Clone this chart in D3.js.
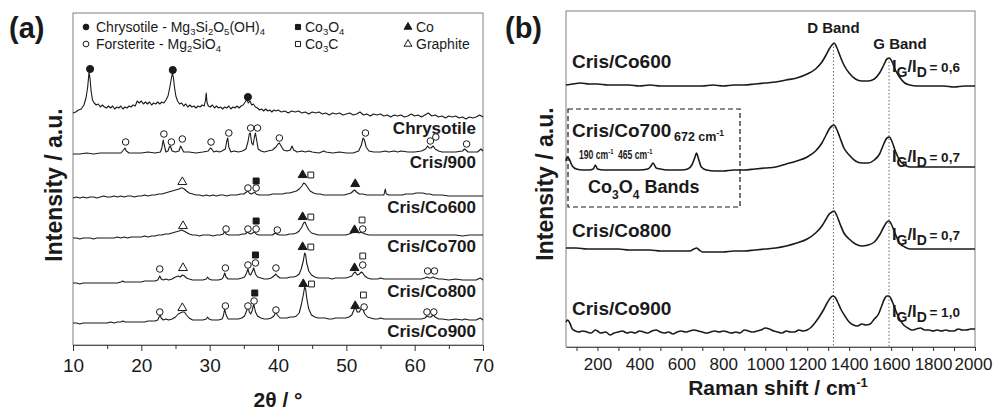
<!DOCTYPE html>
<html><head><meta charset="utf-8">
<script src="https://cdn.jsdelivr.net/npm/d3@7"></script>
<style>
body{margin:0;background:#fff}
text{font-family:"Liberation Sans",Arial,sans-serif;fill:#1a1a1a}
</style>
</head><body>
<svg id="c" width="993" height="412"></svg>
<script>
// ---------------- DATA: panel (a) XRD ----------------
const xrdTraceNames = ["Chrysotile","Cris/900","Cris/Co600","Cris/Co700","Cris/Co800","Cris/Co900"];
const xrdChrysotile = [[10.0,232],[10.4,233],[10.8,235],[11.2,236],[11.6,240],[11.9,247],[12.15,258],[12.35,273],[12.5,266],[12.65,254],[12.85,245],[13.1,242],[13.4,240],[13.7,241],[14.0,238],[14.3,240],[14.6,238],[14.9,237],[15.2,239],[15.5,237],[15.8,239],[16.1,236],[16.4,238],[16.7,237],[17.0,239],[17.3,236],[17.6,238],[17.9,237],[18.2,239],[18.5,238],[18.8,240],[19.1,239],[19.4,244],[19.7,242],[20.0,244],[20.3,241],[20.6,243],[20.9,241],[21.2,243],[21.5,240],[21.8,242],[22.1,241],[22.4,243],[22.7,241],[23.0,243],[23.3,242],[23.6,245],[23.9,249],[24.15,257],[24.35,265],[24.55,272],[24.7,267],[24.85,258],[25.05,249],[25.3,244],[25.6,241],[25.9,242],[26.2,239],[26.5,241],[26.8,238],[27.1,240],[27.4,238],[27.7,239],[28.0,237],[28.3,239],[28.6,238],[28.9,240],[29.2,239],[29.4,245],[29.5,252],[29.6,243],[29.8,239],[30.1,238],[30.4,240],[30.7,237],[31.0,239],[31.3,237],[31.6,238],[31.9,236],[32.2,238],[32.5,237],[32.8,239],[33.1,236],[33.4,238],[33.7,237],[34.0,239],[34.3,237],[34.6,239],[34.9,240],[35.2,243],[35.45,246],[35.65,242],[35.9,244],[36.15,240],[36.4,241],[36.7,238],[37.0,237],[37.3,235],[37.6,236],[37.9,234],[38.2,236],[38.5,234],[38.8,235],[39.1,233],[39.4,235],[39.7,234],[40.0,235],[40.5,233],[41.0,234],[41.5,232],[42.0,234],[42.5,233],[43.0,234],[43.5,232],[44.0,233],[44.5,231],[45.0,233],[45.5,232],[46.0,233],[46.5,231],[47.0,232],[47.5,230],[48.0,232],[48.5,231],[49.0,232],[49.5,230],[50.0,231],[50.5,232],[51.0,230],[51.5,231],[52.0,233],[52.5,230],[53.0,231],[53.5,229],[54.0,231],[54.5,230],[55.0,231],[55.5,229],[56.0,230],[56.5,228],[57.0,230],[57.5,229],[58.0,230],[58.5,228],[59.0,229],[59.5,231],[60.0,229],[60.5,230],[61.0,228],[61.5,230],[62.0,232],[62.5,229],[63.0,230],[63.5,228],[64.0,229],[64.5,227],[65.0,229],[65.5,228],[66.0,229],[66.5,227],[67.0,228],[67.5,226],[68.0,228],[68.5,227],[69.0,228],[69.5,230],[70.0,228]];
const xrdCris900 = [[10.0,191],[11,191],[12,192],[13,191],[14,192],[15,192],[16,192],[17.0,192],[17.4,195],[17.6,197],[17.8,194],[18.2,192],[19,192],[20,192],[21,193],[22,192],[22.8,193],[23.0,197],[23.2,205],[23.35,200],[23.6,193],[23.9,194],[24.1,198],[24.25,199],[24.5,194],[25.0,193],[25.5,194],[25.75,199],[25.9,197],[26.2,193],[27,193],[28,192],[29,193],[29.8,194],[30.1,197],[30.3,196],[30.6,193],[31.0,194],[31.4,193],[31.8,194],[32.3,196],[32.5,204],[32.65,207],[32.8,198],[33.1,193],[33.6,194],[34.2,193],[34.8,194],[35.3,196],[35.6,203],[35.8,211],[35.95,212],[36.15,202],[36.35,200],[36.55,208],[36.7,212],[36.85,206],[37.1,196],[37.5,194],[38,193],[38.5,194],[39.2,195],[39.7,198],[40.0,201],[40.2,202],[40.45,199],[40.8,195],[41.3,194],[41.8,195],[42.05,199],[42.3,195],[42.8,193],[43.5,194],[44,193],[44.5,194],[45,193],[46,192],[46.7,194],[47,193],[48,192],[49,193],[50,192],[51,192],[51.8,194],[52.2,200],[52.45,207],[52.65,205],[52.9,198],[53.3,194],[54,193],[55,193],[55.7,194],[56.2,193],[57,194],[57.5,193],[58,194],[59,193],[60,193],[61,194],[61.6,196],[61.9,199],[62.1,197],[62.4,197],[62.7,199],[63.0,196],[63.5,194],[64,193],[65,193],[66,193],[67,194],[67.3,196],[67.5,195],[67.8,193],[68.5,193],[69.2,193],[69.7,196],[70,194]];
const xrdCo600 = [[10,147],[10.5,148],[11,147],[11.5,148],[12,147],[12.5,148],[13,148],[13.5,147],[14,148],[14.5,149],[15,148],[15.5,148],[16,149],[16.5,148],[17,149],[17.5,148],[18,149],[18.5,149],[19,148],[19.5,149],[20,149],[20.5,150],[21,149],[21.5,150],[22,150],[22.5,151],[23,151],[23.5,152],[24,153],[24.5,154],[25,155],[25.5,156],[25.8,157],[26.0,157],[26.3,156],[26.6,154],[27,152],[27.5,151],[28,150],[28.5,150],[29,149],[29.5,150],[30,149],[30.5,150],[31,149],[31.5,150],[32,150],[32.5,149],[33,150],[33.5,150],[34,150],[34.5,151],[35,151],[35.4,153],[35.6,154],[35.8,152],[36.1,151],[36.4,152],[36.6,153],[36.8,151],[37.2,150],[37.7,150],[38.2,150],[38.7,150],[39.2,151],[39.7,151],[40.2,151],[40.7,151],[41.2,152],[41.7,152],[42.2,153],[42.7,154],[43.1,156],[43.5,159],[43.75,162],[44.0,161],[44.3,158],[44.7,154],[45.2,152],[45.7,151],[46.2,151],[46.7,150],[47.2,150],[47.7,150],[48.2,150],[48.7,150],[49.2,150],[49.7,150],[50.2,151],[50.7,152],[51.0,154],[51.2,155],[51.5,153],[51.9,151],[52.4,151],[53,150],[53.5,150],[54,150],[54.5,150],[55,150],[55.5,150],[55.7,156],[55.85,151],[56.2,150],[56.7,150],[57.2,150],[57.7,150],[58.2,150],[58.7,151],[59.2,151],[59.7,151],[60.2,152],[60.7,152],[61.2,152],[61.7,151],[62.2,151],[62.7,150],[63.2,150],[64,150],[65,149],[66,149],[67,149],[68,149],[69,149],[70,149]];
const xrdCo700 = [[10,107],[10.5,107],[11,106],[11.5,107],[12,107],[12.5,107],[13,106],[13.5,107],[14,107],[14.5,107],[15,107],[15.5,107],[16,107],[16.5,108],[17,107],[17.5,108],[18,107],[18.5,108],[19,108],[19.5,108],[20,108],[20.5,109],[21,108],[21.5,109],[22,109],[22.5,110],[23,110],[23.5,111],[24,111],[24.5,112],[25,113],[25.5,114],[25.9,115],[26.2,114],[26.5,113],[27,111],[27.5,110],[28,110],[28.5,109],[29,110],[29.5,110],[30,110],[30.5,109],[31,110],[31.5,110],[32.0,111],[32.2,114],[32.4,111],[32.8,110],[33.3,110],[33.8,110],[34.3,110],[34.8,111],[35.2,111],[35.5,113],[35.7,112],[36.0,111],[36.3,112],[36.6,113],[36.8,111],[37.2,110],[37.7,110],[38.2,110],[38.7,110],[39.2,110],[39.6,112],[39.8,111],[40.2,110],[40.7,110],[41.2,110],[41.7,111],[42.2,111],[42.7,112],[43.1,114],[43.5,118],[43.75,122],[43.95,123],[44.2,119],[44.5,115],[44.9,112],[45.4,111],[45.9,110],[46.4,110],[46.9,110],[47.4,110],[47.9,110],[48.4,110],[48.9,110],[49.4,110],[49.9,110],[50.4,111],[50.8,112],[51.1,114],[51.3,115],[51.6,113],[51.9,112],[52.2,113],[52.4,112],[52.8,111],[53.3,110],[54,110],[55,110],[56,110],[57,110],[58,110],[59,110],[60,110],[61,110],[62,110],[63,110],[64,110],[65,110],[66,110],[67,109],[68,110],[69,110],[70,110]];
const xrdCo800 = [[10,62],[10.5,62],[11,61],[11.5,62],[12,62],[12.5,62],[13,62],[13.5,62],[14,62],[14.5,62],[15,62],[15.5,62],[16,62],[16.5,62],[17,63],[17.3,64],[17.5,63],[18,63],[18.5,63],[19,63],[19.5,63],[20,63],[20.5,64],[21,64],[21.5,64],[22,64],[22.4,65],[22.7,69],[22.9,66],[23.2,65],[23.6,66],[24,65],[24.5,66],[25,68],[25.4,69],[25.7,68],[26.0,70],[26.3,69],[26.6,67],[27,66],[27.5,65],[28,65],[28.5,65],[29,65],[29.5,66],[29.7,68],[29.9,66],[30.3,65],[30.8,65],[31.3,65],[31.8,66],[32.0,68],[32.2,72],[32.4,68],[32.7,66],[33.2,66],[33.7,66],[34.2,66],[34.7,67],[35.1,68],[35.4,72],[35.6,76],[35.8,71],[36.0,70],[36.2,73],[36.45,77],[36.7,71],[37,68],[37.5,67],[38,66],[38.5,66],[39,67],[39.4,69],[39.7,71],[39.9,69],[40.3,67],[40.8,67],[41.3,67],[41.8,68],[42.3,68],[42.7,69],[43.1,71],[43.4,76],[43.7,84],[43.9,92],[44.05,90],[44.2,82],[44.5,74],[44.9,70],[45.4,68],[45.9,67],[46.4,67],[46.9,67],[47.4,67],[47.9,66],[48.4,67],[48.9,67],[49.4,67],[49.9,67],[50.4,68],[50.8,69],[51.1,72],[51.3,73],[51.6,70],[51.9,71],[52.2,73],[52.4,72],[52.7,69],[53.1,67],[53.6,66],[54.1,66],[54.6,66],[55,67],[55.5,66],[56,66],[57,66],[58,66],[59,66],[60,66],[61,66],[61.5,67],[61.8,68],[62.1,67],[62.4,67],[62.7,68],[63.0,67],[63.5,66],[64,66],[65,65],[66,66],[67,65],[68,65],[69,65],[69.6,67],[69.8,66],[70,65]];
const xrdCo900 = [[10,22],[10.5,22],[11,21],[11.5,22],[12,22],[12.5,22],[13,22],[13.5,22],[14,22],[14.5,22],[15,22],[15.5,23],[16,22],[16.5,23],[17,23],[17.3,24],[17.6,23],[18,23],[18.5,23],[19,23],[19.5,23],[20,23],[20.5,23],[21,24],[21.5,24],[22,24],[22.4,25],[22.6,28],[22.75,31],[22.9,27],[23.2,25],[23.6,26],[24,25],[24.5,26],[25,28],[25.4,31],[25.7,32],[26.0,33],[26.3,33],[26.6,30],[27,27],[27.5,25],[28,25],[28.5,25],[29,25],[29.5,26],[29.7,28],[29.9,26],[30.3,25],[30.8,25],[31.3,25],[31.8,26],[32.0,29],[32.2,36],[32.4,30],[32.7,26],[33.2,26],[33.7,26],[34.2,26],[34.7,27],[35.1,29],[35.4,34],[35.6,39],[35.8,33],[36.0,31],[36.2,34],[36.45,41],[36.7,33],[37,29],[37.5,27],[38,26],[38.5,26],[39,27],[39.4,29],[39.7,33],[39.9,30],[40.3,27],[40.8,27],[41.3,27],[41.8,28],[42.3,28],[42.7,29],[43.1,32],[43.4,40],[43.7,50],[43.9,58],[44.05,56],[44.2,47],[44.5,36],[44.9,30],[45.4,28],[45.9,27],[46.4,27],[46.9,27],[47.4,26],[47.9,26],[48.4,27],[48.9,27],[49.4,27],[49.9,27],[50.4,28],[50.8,30],[51.1,35],[51.3,38],[51.6,33],[51.9,33],[52.2,37],[52.4,36],[52.7,31],[53.1,28],[53.6,27],[54.1,26],[54.6,26],[55,27],[55.5,26],[56,26],[57,26],[58,26],[59,26],[60,26],[61,26],[61.5,27],[61.8,29],[62.1,28],[62.4,28],[62.7,30],[63.0,28],[63.5,26],[64,26],[65,25],[66,26],[67,25],[67.3,26],[68,25],[69,25],[69.6,27],[69.8,26],[70,25]];
const xrdTicks = [10,20,30,40,50,60,70];
const xrdMinorTicks = [15,25,35,45,55,65];
// phase markers [2theta, intensity]
const markChrysotile = [[12.5,276],[24.6,275],[35.6,248]];
const markForsterite = [[17.7,203],[23.3,211],[24.4,203],[26.0,206],[30.2,203],[32.8,212],[36.0,217],[37.0,217],[40.2,207],[52.8,212],[62.3,204],[63.1,208],[67.6,201],
  [35.6,157],[36.8,157],
  [32.4,116],[35.6,116],[36.8,116],[39.9,115],[52.4,116],
  [22.7,76],[32.3,77],[35.6,80],[36.7,82],[39.7,77],[52.4,80],[61.9,74],[62.9,74],
  [22.7,33],[32.3,39],[35.6,39],[36.5,44],[39.7,35],[52.6,38],[61.8,33],[62.8,33]];
const markCo3O4 = [[36.8,164],[36.8,124],[36.7,90],[36.6,52]];
const markCo3C = [[44.8,170],[44.8,128],[52.3,125],[44.8,98],[52.4,89],[44.9,61],[52.5,50]];
const markCo = [[43.6,170],[51.3,161],[43.6,128],[51.2,115],[43.6,98],[51.2,77],[43.7,61],[51.3,39]];
const markGraphite = [[26.0,163],[26.1,119],[26.1,77],[26.0,37]];

// ---------------- DATA: panel (b) Raman ----------------
const ramanNames = ["Cris/Co600","Cris/Co700","Cris/Co800","Cris/Co900"];
const ramanRatios = ["0,6","0,7","0,7","1,0"];
const ramanCo600 = [[50,262],[80,263],[120,264],[160,263],[200,263],[250,262],[300,262],[350,262],[400,261],[450,262],[500,261],[550,261],[600,261],[650,261],[700,261],[750,262],[800,261],[850,262],[900,262],[950,263],[1000,264],[1050,265],[1100,267],[1150,269],[1200,273],[1240,278],[1270,285],[1290,292],[1305,298],[1318,302],[1328,304],[1340,300],[1355,292],[1375,282],[1400,274],[1430,268],[1460,266],[1490,266],[1520,268],[1545,274],[1565,282],[1580,288],[1592,289],[1605,285],[1620,277],[1640,270],[1665,264],[1690,262],[1720,261],[1760,261],[1800,261],[1850,261],[1900,260],[1950,261],[2000,261]];
const ramanCo700 = [[50,186],[55,190],[65,188],[80,181],[100,178],[130,177],[160,177],[180,178],[190,182],[200,178],[230,177],[260,177],[300,177],[350,177],[400,177],[440,178],[455,181],[465,184],[480,179],[500,178],[530,177],[560,177],[600,177],[630,178],[650,182],[665,190],[672,194],[682,188],[695,180],[720,177],[760,176],[800,176],[850,177],[900,177],[950,178],[1000,179],[1050,180],[1100,183],[1150,186],[1200,190],[1240,196],[1270,204],[1290,212],[1305,218],[1318,221],[1328,222],[1340,218],[1355,210],[1375,199],[1400,192],[1430,186],[1460,184],[1490,184],[1520,187],[1545,193],[1565,203],[1580,209],[1592,210],[1605,205],[1620,196],[1640,187],[1665,182],[1690,180],[1720,180],[1800,180],[1900,180],[2000,180]];
const ramanCo800 = [[50,99],[100,99],[150,98],[200,98],[250,98],[300,98],[350,97],[400,97],[450,97],[500,96],[550,96],[600,96],[640,96],[660,98],[672,99],[685,97],[700,95],[750,95],[800,95],[850,96],[900,96],[950,97],[1000,98],[1050,99],[1100,101],[1150,104],[1200,108],[1240,114],[1270,121],[1290,128],[1305,133],[1318,135],[1328,136],[1340,132],[1355,124],[1375,114],[1400,108],[1430,103],[1460,101],[1490,102],[1520,105],[1545,112],[1565,120],[1580,125],[1590,126],[1605,121],[1620,113],[1640,104],[1665,100],[1690,98],[1720,98],[1800,98],[1900,98],[2000,98]];
const ramanCo900 = [[50,25],[58,27],[68,24],[80,18],[95,16],[110,15],[130,16],[150,15],[170,14],[190,17],[200,16],[215,14],[240,15],[260,12],[280,14],[300,15],[320,16],[340,14],[360,15],[380,14],[400,16],[420,15],[440,14],[460,16],[480,17],[500,15],[520,14],[540,15],[560,13],[580,15],[600,16],[620,15],[640,16],[660,17],[680,16],[700,15],[720,14],[740,15],[760,16],[780,15],[800,16],[820,15],[840,14],[860,15],[880,14],[900,17],[920,16],[940,15],[960,16],[980,17],[1000,19],[1020,18],[1040,16],[1060,15],[1080,14],[1100,16],[1120,15],[1140,15],[1160,17],[1180,16],[1200,17],[1220,20],[1240,25],[1260,31],[1280,38],[1295,44],[1310,49],[1322,51],[1332,50],[1345,45],[1360,38],[1380,31],[1400,25],[1420,22],[1440,21],[1460,23],[1480,22],[1500,23],[1520,28],[1540,33],[1555,41],[1568,48],[1580,51],[1590,51],[1600,48],[1612,42],[1625,35],[1640,28],[1660,22],[1680,19],[1700,17],[1720,18],[1740,19],[1760,17],[1780,17],[1800,16],[1820,17],[1840,16],[1860,17],[1880,16],[1900,16],[1920,18],[1940,17],[1960,17],[1980,18],[2000,18]];
const ramanTicks = [200,400,600,800,1000,1200,1400,1600,1800,2000];
const ramanMinorTicks = [100,300,500,700,900,1100,1300,1500,1700,1900];
const bandNames = ["D Band","G Band"];
const bandPositions = [1325, 1590];
const co3o4Peaks = ["190","465","672"];

// ---------------- DRAW ----------------
const svg = d3.select("#c");
const ink = "#1a1a1a";

function rich(g, x, y, parts, size, weight, anchor, subShift) {
  const t = g.append("text").attr("x", x).attr("y", y)
    .attr("font-size", size).attr("font-weight", weight || "normal")
    .attr("text-anchor", anchor || "start");
  let shift = 0;
  const sub = subShift != null ? subShift : size * 0.33;
  parts.forEach(p => {
    let s = p, kind = null, fs = null;
    if (Array.isArray(p)) { s = p[0]; kind = p[1]; fs = p[2]; }
    const target = kind === "sub" ? sub : kind === "sup" ? -size * 0.4 : 0;
    const ts = t.append("tspan").text(s);
    if (target !== shift) { ts.attr("dy", target - shift); shift = target; }
    ts.attr("font-size", fs || (kind ? size * 0.68 : size));
  });
  return t;
}

// ======== panel (a) ========
const xA = d3.scaleLinear().domain([10, 70]).range([73, 483]);
const yA = d3.scaleLinear().domain([0, 332]).range([345, 13]);
const gA = svg.append("g");

gA.append("rect").attr("x", 73).attr("y", 13).attr("width", 410).attr("height", 332)
  .attr("fill", "none").attr("stroke", "#808080").attr("stroke-width", 1);

const axA = d3.axisBottom(xA).tickValues(xrdTicks).tickSize(6).tickSizeOuter(0).tickFormat(d3.format("d"));
const axAg = gA.append("g").attr("transform", "translate(0,345)").call(axA);
axAg.select(".domain").attr("stroke", "#555");
axAg.selectAll(".tick line").attr("stroke", "#333");
axAg.selectAll("text").attr("font-size", 19).attr("font-family", "Liberation Sans, Arial, sans-serif").attr("fill", ink).attr("dy", "0.95em");
const axAm = d3.axisBottom(xA).tickValues(xrdMinorTicks).tickSize(4).tickFormat("");
const axAmg = gA.append("g").attr("transform", "translate(0,345)").call(axAm);
axAmg.select(".domain").remove();
axAmg.selectAll(".tick line").attr("stroke", "#333");

const lineA = d3.line().x(d => xA(d[0])).y(d => yA(d[1]));
const xrdSeries = [xrdChrysotile, xrdCris900, xrdCo600, xrdCo700, xrdCo800, xrdCo900];
xrdSeries.forEach((s, i) => {
  gA.append("path").datum(s).attr("d", lineA).attr("fill", "none")
    .attr("stroke", ink).attr("stroke-width", 1.1).attr("stroke-linejoin", "round");
  const last = s[s.length - 1];
  gA.append("text").attr("x", 476).attr("y", yA(last[1]) + 17)
    .attr("text-anchor", "end").attr("font-size", 17).attr("font-weight", "bold").text(xrdTraceNames[i]);
});

function drawMarks(g, data, xs, ys, type, filled, size) {
  const sym = d3.symbol().type(type).size(size);
  g.selectAll(null).data(data).enter().append("path")
    .attr("d", sym)
    .attr("transform", d => `translate(${xs(d[0])},${ys(d[1])})`)
    .attr("fill", filled ? ink : "#fff").attr("stroke", ink).attr("stroke-width", 1);
}
drawMarks(gA, markChrysotile, xA, yA, d3.symbolCircle, true, 40);
drawMarks(gA, markForsterite, xA, yA, d3.symbolCircle, false, 34);
drawMarks(gA, markCo3O4, xA, yA, d3.symbolSquare, true, 36);
drawMarks(gA, markCo3C, xA, yA, d3.symbolSquare, false, 34);
drawMarks(gA, markCo, xA, yA, d3.symbolTriangle, true, 34);
drawMarks(gA, markGraphite, xA, yA, d3.symbolTriangle, false, 34);

// legend (a)
const leg = gA.append("g");
function legMark(x, y, type, filled) {
  leg.append("path").attr("d", d3.symbol().type(type).size(26)())
    .attr("transform", `translate(${x},${y})`)
    .attr("fill", filled ? ink : "#fff").attr("stroke", ink).attr("stroke-width", 1);
}
legMark(86, 27, d3.symbolCircle, true);
rich(leg, 96, 32, ["Chrysotile - Mg", ["3","sub"], "Si", ["2","sub"], "O", ["5","sub"], "(OH)", ["4","sub"]], 14, "normal", "start", 3);
legMark(86, 44, d3.symbolCircle, false);
rich(leg, 96, 49, ["Forsterite - Mg", ["2","sub"], "SiO", ["4","sub"]], 14, "normal", "start", 3);
legMark(298, 27, d3.symbolSquare, true);
rich(leg, 305, 32, ["Co", ["3","sub"], "O", ["4","sub"]], 14, "normal", "start", 3);
legMark(298, 44, d3.symbolSquare, false);
rich(leg, 305, 49, ["Co", ["3","sub"], "C"], 14, "normal", "start", 3);
legMark(408, 27, d3.symbolTriangle, true);
rich(leg, 416, 32, ["Co"], 14);
legMark(408, 44, d3.symbolTriangle, false);
rich(leg, 416, 49, ["Graphite"], 14);

// titles (a)
svg.append("text").attr("x", 9).attr("y", 38).attr("font-size", 29).attr("font-weight", "bold")
  .attr("font-family", "Open Sans, Liberation Sans, sans-serif").text("(a)");
svg.append("text").attr("transform", "translate(62,185) rotate(-90)").attr("text-anchor", "middle")
  .attr("font-size", 23).attr("font-weight", "bold").text("Intensity / a.u.");
svg.append("text").attr("x", 278).attr("y", 407).attr("text-anchor", "middle")
  .attr("font-size", 21).attr("font-weight", "bold").text("2θ / °");

// ======== panel (b) ========
const xB = d3.scaleLinear().domain([50, 2000]).range([566, 975]);
const yB = d3.scaleLinear().domain([0, 336]).range([347, 11]);
const gB = svg.append("g");

gB.append("rect").attr("x", 566).attr("y", 11).attr("width", 409).attr("height", 336)
  .attr("fill", "none").attr("stroke", "#808080").attr("stroke-width", 1);

const axB = d3.axisBottom(xB).tickValues(ramanTicks).tickSize(4).tickSizeOuter(0).tickFormat(d3.format("d"));
const axBg = gB.append("g").attr("transform", "translate(0,347)").call(axB);
axBg.select(".domain").attr("stroke", "#555");
axBg.selectAll(".tick line").attr("stroke", "#333");
axBg.selectAll("text").attr("font-size", 17).attr("font-family", "Liberation Sans, Arial, sans-serif").attr("fill", ink).attr("dy", "0.95em");
axBg.selectAll(".tick").filter(d => d === 2000).select("text").attr("dx", -2);
const axBm = d3.axisBottom(xB).tickValues(ramanMinorTicks).tickSize(4).tickFormat("");
const axBmg = gB.append("g").attr("transform", "translate(0,347)").call(axBm);
axBmg.select(".domain").remove();
axBmg.selectAll(".tick line").attr("stroke", "#333");

// dotted band lines
const ramanSeries = [ramanCo600, ramanCo700, ramanCo800, ramanCo900];
bandPositions.forEach(bp => {
  const top = d3.max(ramanCo600.filter(d => Math.abs(d[0] - bp) < 15), d => d[1]);
  gB.append("line").attr("x1", xB(bp)).attr("x2", xB(bp)).attr("y1", yB(top)).attr("y2", 347)
    .attr("stroke", "#666").attr("stroke-width", 1).attr("stroke-dasharray", "1.5,2");
});

const lineB = d3.line().x(d => xB(d[0])).y(d => yB(d[1])).curve(d3.curveMonotoneX);
ramanSeries.forEach(s => {
  gB.append("path").datum(s).attr("d", lineB).attr("fill", "none")
    .attr("stroke", ink).attr("stroke-width", 1.6).attr("stroke-linejoin", "round");
});

// band labels
gB.append("text").attr("x", xB(bandPositions[0])).attr("y", 33).attr("text-anchor", "middle")
  .attr("font-size", 15).attr("font-weight", "bold").text(bandNames[0]);
gB.append("text").attr("x", 900).attr("y", 49).attr("text-anchor", "middle")
  .attr("font-size", 15).attr("font-weight", "bold").text(bandNames[1]);

// sample labels and ratios
const ramanLabelY = [68, 137, 237, 315];
const ratioY = [72, 162, 240, 317];
ramanNames.forEach((n, i) => {
  gB.append("text").attr("x", 572).attr("y", ramanLabelY[i]).attr("font-size", 19)
    .attr("font-weight", "bold").text(n);
  rich(gB, 892, ratioY[i], ["I", ["G", "sub", 14], "/I", ["D", "sub", 14], ["\u2009= " + ramanRatios[i], null, 13.5]], 16.5, "bold");
});

// Co3O4 annotation box
gB.append("rect").attr("x", xB(50) + 2).attr("y", 109).attr("width", 740 - xB(50) - 2).attr("height", 98)
  .attr("fill", "none").attr("stroke", ink).attr("stroke-width", 1.2).attr("stroke-dasharray", "5,3");
rich(gB, 699, 141, [co3o4Peaks[2] + " cm", ["-1", "sup"]], 12.5, "bold", "middle");
const g190 = gB.append("g").attr("transform", "translate(579,159) scale(0.72,1)");
rich(g190, 0, 0, [co3o4Peaks[0] + " cm", ["-1", "sup", 8]], 12, "bold", "start");
const g465 = gB.append("g").attr("transform", "translate(618,159) scale(0.72,1)");
rich(g465, 0, 0, [co3o4Peaks[1] + " cm", ["-1", "sup", 8]], 12, "bold", "start");
rich(gB, 588, 193, ["Co", ["3", "sub", 12], "O", ["4", "sub", 12], " Bands"], 18, "bold");

// titles (b)
svg.append("text").attr("x", 505).attr("y", 38).attr("font-size", 29).attr("font-weight", "bold")
  .attr("font-family", "Open Sans, Liberation Sans, sans-serif").text("(b)");
svg.append("text").attr("transform", "translate(553,184) rotate(-90)").attr("text-anchor", "middle")
  .attr("font-size", 23).attr("font-weight", "bold").text("Intensity / a.u.");
rich(svg, 778, 395, ["Raman shift / cm", ["-1", "sup", 13]], 21, "bold", "middle");
</script>
</body></html>
